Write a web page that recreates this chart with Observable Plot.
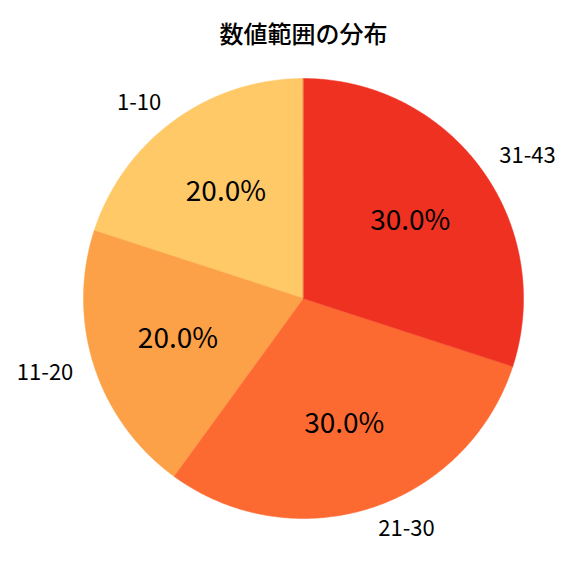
<!DOCTYPE html>
<html><head><meta charset="utf-8">
<script src="https://cdn.jsdelivr.net/npm/d3@7"></script>
<script src="https://cdn.jsdelivr.net/npm/@observablehq/plot@0.6"></script>
<style>
body{margin:0;background:#fff;}
#chart svg{display:block;}
</style>
</head><body><div id="chart"></div>
<script>
const title = "数値範囲の分布";
const categories = ["1-10", "11-20", "21-30", "31-43"];
const values = [20, 20, 30, 30];
const colors = ["#fec966", "#fca147", "#fc6a32", "#ef3122"];

const total = d3.sum(values);
// matplotlib-style: start at 90°, counter-clockwise
let start = 90;
const slices = categories.map((c, i) => {
  const a0 = start, a1 = start + values[i] / total * 360;
  start = a1;
  return {cat: c, value: values[i], a0, a1, mid: (a0 + a1) / 2};
});
const rad = d => d * Math.PI / 180;
const poly = [];
for (const s of slices) {
  poly.push({cat: s.cat, x: 0, y: 0});
  const n = Math.ceil((s.a1 - s.a0) * 2);
  for (let k = 0; k <= n; k++) {
    const a = rad(s.a0 + (s.a1 - s.a0) * k / n);
    poly.push({cat: s.cat, x: Math.cos(a), y: Math.sin(a)});
  }
}
const pcts = slices.map(s => ({
  text: (s.value / total * 100).toFixed(1) + "%",
  x: 0.6 * Math.cos(rad(s.mid)), y: 0.6 * Math.sin(rad(s.mid))
}));
const labs = slices.map(s => ({
  text: s.cat,
  x: 1.1 * Math.cos(rad(s.mid)), y: 1.1 * Math.sin(rad(s.mid))
}));

const chart = Plot.plot({
  width: 576, height: 576,
  margin: 0,
  style: {fontFamily: "'Noto Sans CJK JP', 'Noto Sans', sans-serif", background: "#fff"},
  x: {domain: [-1, 1], range: [83, 523], axis: null},
  y: {domain: [-1, 1], range: [518, 78], axis: null},
  color: {domain: categories, range: colors},
  marks: [
    Plot.line(poly, {x: "x", y: "y", z: "cat", fill: "cat", stroke: "cat", strokeWidth: 0.5, curve: "linear-closed"}),
    Plot.text(pcts, {x: "x", y: "y", text: "text", fontSize: 28, fill: "black"}),
    Plot.text(labs.filter(d => d.x >= 0), {x: "x", y: "y", text: "text", fontSize: 22, textAnchor: "start", fill: "black"}),
    Plot.text(labs.filter(d => d.x < 0), {x: "x", y: "y", text: "text", fontSize: 22, textAnchor: "end", fill: "black"}),
    Plot.text([title], {frameAnchor: "top", dx: 15, dy: 25, text: d => d, fontSize: 24, fontWeight: 500, fill: "black"})
  ]
});
document.getElementById("chart").appendChild(chart);
</script>
</body></html>
